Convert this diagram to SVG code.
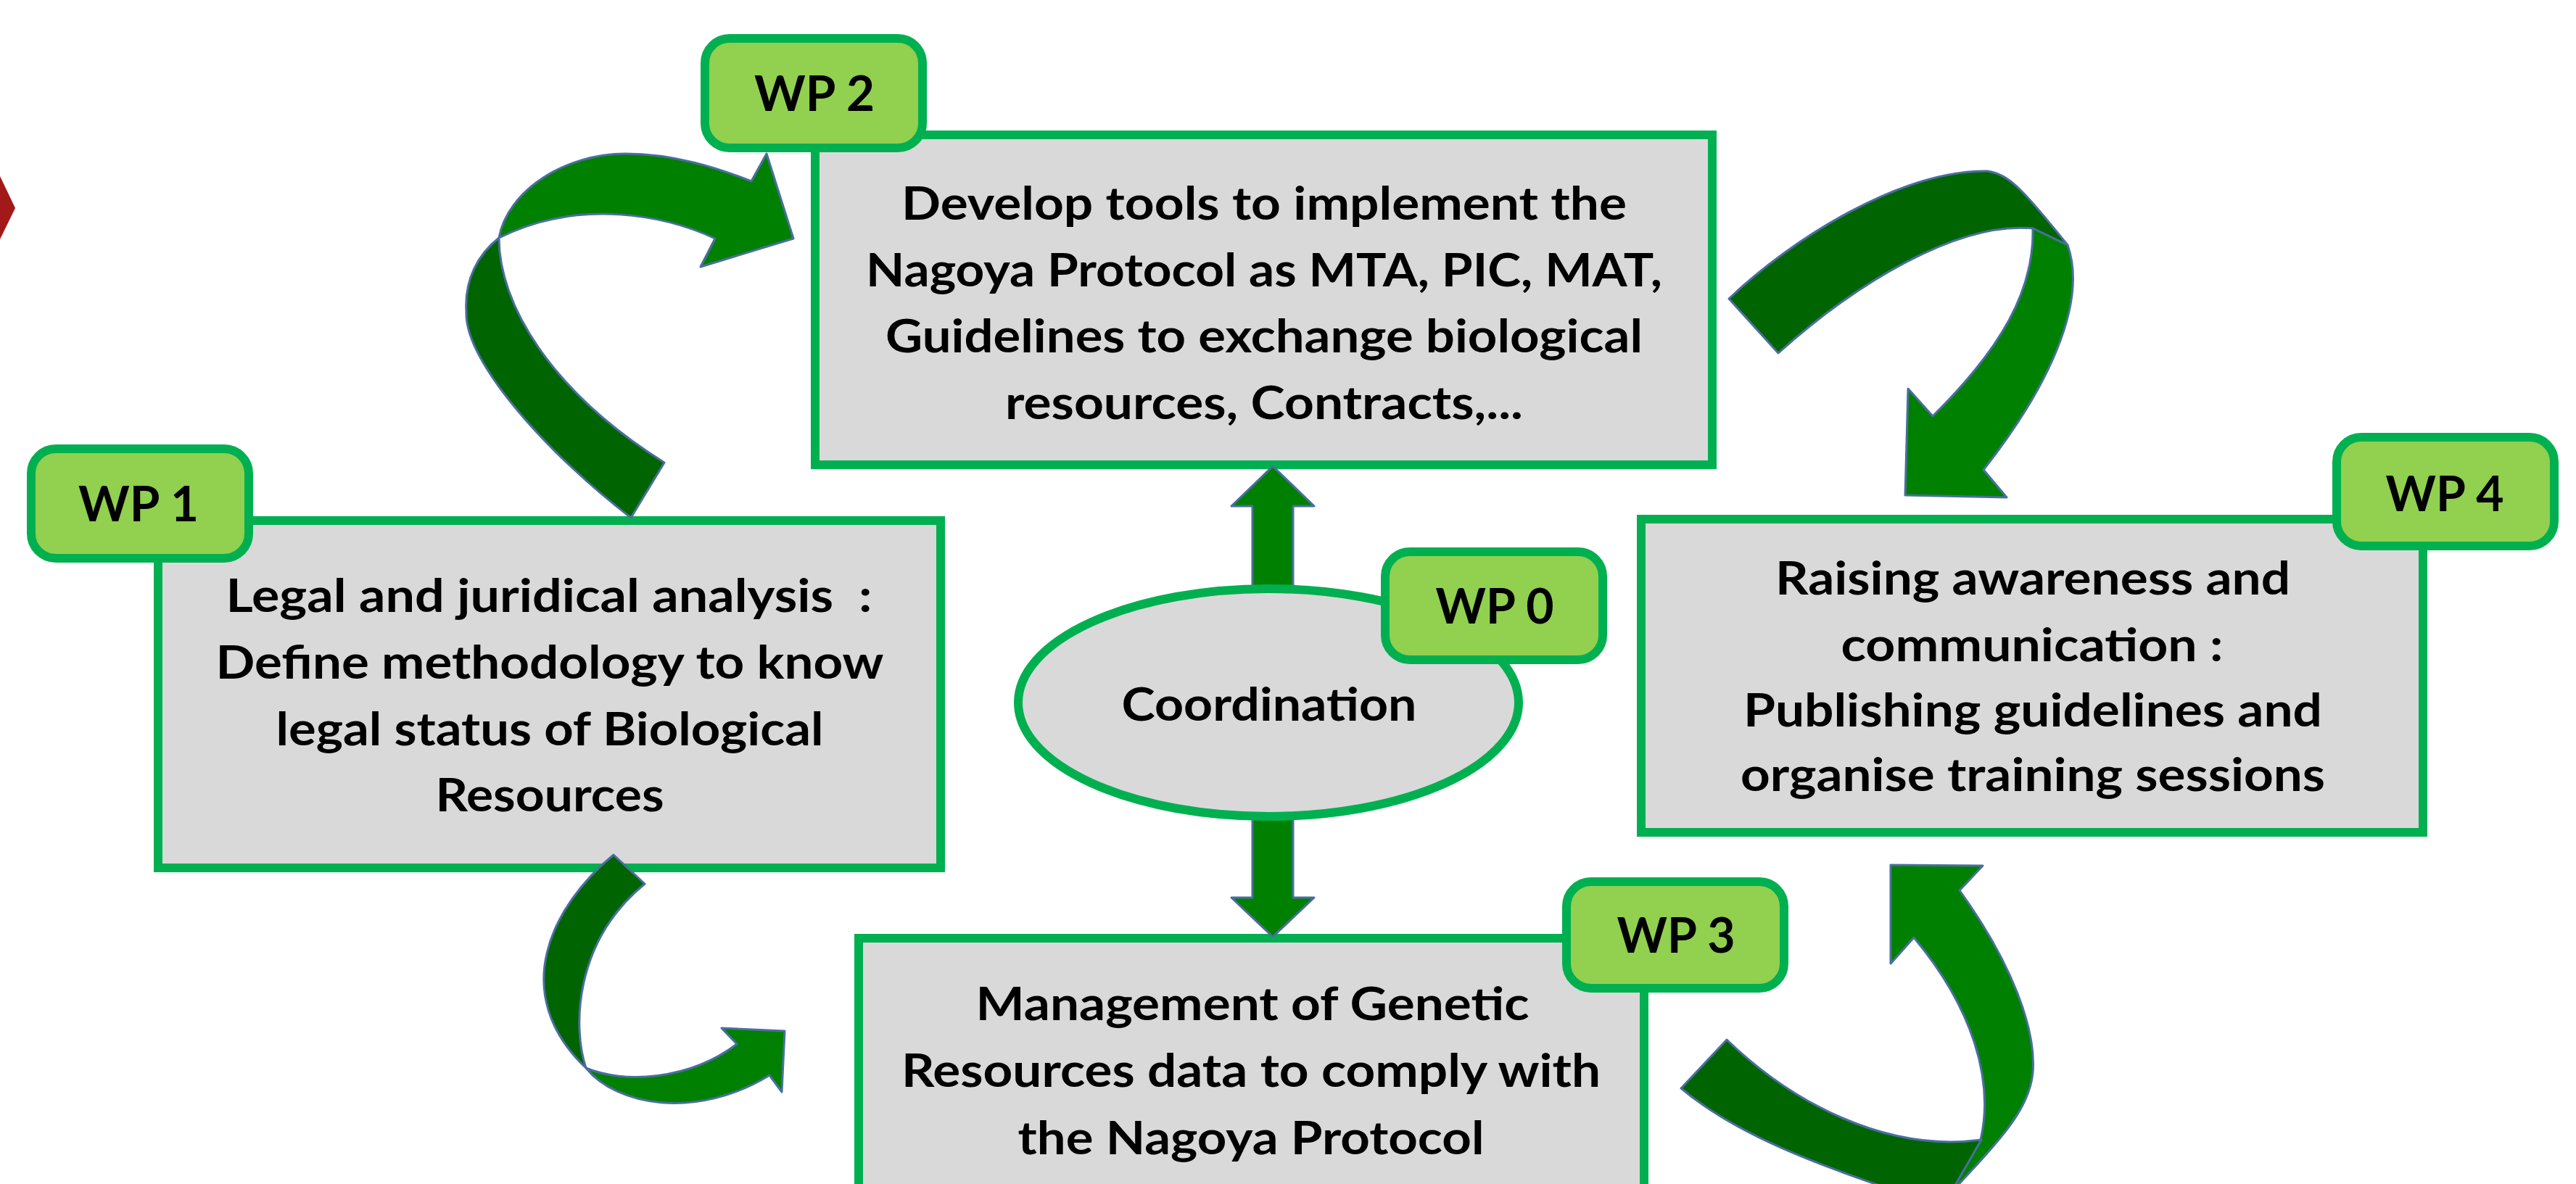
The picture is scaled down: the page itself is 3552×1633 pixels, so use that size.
<svg xmlns="http://www.w3.org/2000/svg" width="3552" height="1633" viewBox="0 0 3552 1633">
<style>
.box{fill:#D9D9D9;stroke:#00B050;stroke-width:12}
.tag{fill:#92D050;stroke:#00B050;stroke-width:12}
.t{font-family:Lato,'Open Sans','Liberation Sans',sans-serif;font-weight:bold;font-size:64px;fill:#000;text-anchor:middle;white-space:pre}
.tg{font-family:Lato,'Open Sans','Liberation Sans',sans-serif;font-weight:bold;font-size:66px;fill:#000;text-anchor:middle}
.lt{fill:#008000;stroke:#4A6E9E;stroke-width:3;stroke-linejoin:round}
.dk{fill:#006400;stroke:#4A6E9E;stroke-width:3;stroke-linejoin:round}
</style>
<rect width="3552" height="1633" fill="#FFFFFF"/>
<polygon points="0,243 21,287 0,330" fill="#A31818"/>

<g id="wp1">
<rect class="box" x="218" y="718" width="1079" height="479"/>
<rect class="tag" x="43" y="619" width="300" height="151" rx="34"/>
<text class="tg" x="191" y="719" textLength="166" lengthAdjust="spacingAndGlyphs">WP 1</text>
<text class="t" x="757" y="844" textLength="891" lengthAdjust="spacingAndGlyphs" xml:space="preserve">Legal and juridical analysis  :</text>
<text class="t" x="758" y="936" textLength="921" lengthAdjust="spacingAndGlyphs">Define methodology to know</text>
<text class="t" x="758" y="1028" textLength="755" lengthAdjust="spacingAndGlyphs">legal status of Biological</text>
<text class="t" x="758" y="1119" textLength="315" lengthAdjust="spacingAndGlyphs">Resources</text>
</g>

<g id="wp2">
<rect class="box" x="1124" y="186" width="1237" height="455"/>
<rect class="tag" x="972" y="53" width="300" height="151" rx="34"/>
<text class="tg" x="1123" y="153" textLength="166" lengthAdjust="spacingAndGlyphs">WP 2</text>
<text class="t" x="1743" y="303" textLength="1000" lengthAdjust="spacingAndGlyphs">Develop tools to implement the</text>
<text class="t" x="1743" y="395" textLength="1098" lengthAdjust="spacingAndGlyphs">Nagoya Protocol as MTA, PIC, MAT,</text>
<text class="t" x="1743" y="486" textLength="1044" lengthAdjust="spacingAndGlyphs">Guidelines to exchange biological</text>
<text class="t" x="1743" y="578" textLength="714" lengthAdjust="spacingAndGlyphs">resources, Contracts,...</text>
</g>

<g id="wp3">
<rect class="box" x="1184" y="1294" width="1083" height="420"/>
<rect class="tag" x="2160" y="1216" width="300" height="147" rx="34"/>
<text class="tg" x="2311" y="1314" textLength="163" lengthAdjust="spacingAndGlyphs">WP 3</text>
<text class="t" x="1727" y="1407" textLength="763" lengthAdjust="spacingAndGlyphs">Management of Genetic</text>
<text class="t" x="1725" y="1499" textLength="964" lengthAdjust="spacingAndGlyphs">Resources data to comply with</text>
<text class="t" x="1725" y="1592" textLength="643" lengthAdjust="spacingAndGlyphs">the Nagoya Protocol</text>
</g>

<g id="wp4">
<rect class="box" x="2263" y="716" width="1078" height="432"/>
<rect class="tag" x="3222" y="603" width="300" height="150" rx="34"/>
<text class="tg" x="3371" y="705" textLength="163" lengthAdjust="spacingAndGlyphs">WP 4</text>
<text class="t" x="2803" y="820" textLength="710" lengthAdjust="spacingAndGlyphs">Raising awareness and</text>
<text class="t" x="2802" y="912" textLength="527" lengthAdjust="spacingAndGlyphs">communication :</text>
<text class="t" x="2803" y="1002" textLength="798" lengthAdjust="spacingAndGlyphs">Publishing guidelines and</text>
<text class="t" x="2803" y="1091" textLength="806" lengthAdjust="spacingAndGlyphs">organise training sessions</text>
</g>

<g id="connectors">
<path class="dk" d="M870,714 C760,630 640,500 643,430 C640,385 660,350 688,328 C688,420 760,540 916,638 Z"/>
<path class="lt" d="M688,328 C700,262 780,212 862,212 C930,212 990,232 1036,250 L1057,212 L1094,329 L966,368 L986,329 C920,298 800,272 688,328 Z"/>
<path class="dk" d="M2384,412 C2470,330 2620,235 2740,236 C2770,240 2790,262 2851,338 L2803,315 C2700,305 2560,390 2452,487 Z"/>
<path class="lt" d="M2803,315 C2805,400 2760,480 2665,574 L2631,536 L2627,683 L2767,686 L2735,648 C2820,540 2880,420 2851,338 Z"/>
<path class="lt" d="M2731,1572 C2750,1490 2720,1390 2639,1293 L2607,1329 L2607,1193 L2734,1194 L2702,1228 C2775,1330 2808,1420 2803,1480 C2798,1530 2760,1570 2690,1645 Z"/>
<path class="dk" d="M2381,1434 C2470,1520 2600,1590 2732,1572 L2690,1645 L2620,1645 C2520,1610 2400,1570 2318,1501 Z"/>
<path class="dk" d="M846,1179 C760,1250 700,1370 808,1473 C790,1420 790,1300 889,1219 Z"/>
<path class="lt" d="M808,1473 C850,1525 960,1545 1061,1483 L1078,1506 L1082,1422 L995,1418 L1016,1440 C950,1490 860,1495 808,1473 Z"/>
<polygon class="lt" points="1755,643 1812,698 1783,698 1783,1238 1812,1238 1755,1292 1698,1238 1727,1238 1727,698 1698,698"/>
</g>

<g id="wp0">
<ellipse class="box" cx="1749" cy="969" rx="345" ry="157"/>
<text class="t" x="1750" y="994" textLength="407" lengthAdjust="spacingAndGlyphs">Coordination</text>
<rect class="tag" x="1910" y="761" width="300" height="149" rx="34"/>
<text class="tg" x="2061" y="860" textLength="163" lengthAdjust="spacingAndGlyphs">WP 0</text>
</g>
</svg>
